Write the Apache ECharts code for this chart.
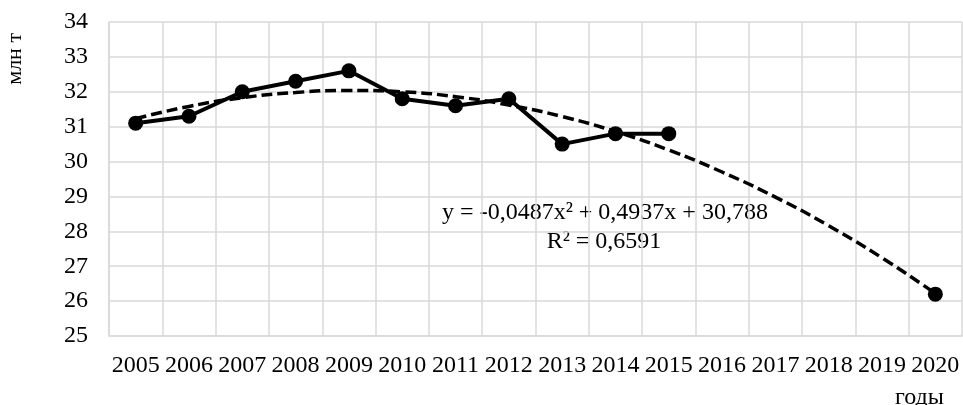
<!DOCTYPE html>
<html>
<head>
<meta charset="utf-8">
<script src="https://cdn.jsdelivr.net/npm/echarts@6/dist/echarts.min.js"></script>
<style>
  html, body { margin: 0; padding: 0; background: #fff; }
  #chart { width: 963px; height: 405px; }
</style>
</head>
<body>
<div id="chart"></div>
<script>
// years on the x axis
const years = ['2005', '2006', '2007', '2008', '2009', '2010', '2011', '2012',
  '2013', '2014', '2015', '2016', '2017', '2018', '2019', '2020'];

// actual values, млн т (2016-2019 missing, 2020 is the forecast point)
const actual = [31.1, 31.3, 32.0, 32.3, 32.6, 31.8, 31.6, 31.8,
  30.5, 30.8, 30.8, null, null, null, null, 26.2];

// polynomial trend
const trend = [31.23, 31.58, 31.83, 31.98, 32.04, 32.0, 31.86, 31.62,
  31.29, 30.86, 30.33, 29.7, 28.98, 28.16, 27.24, 26.22];

const yTicks = { min: 25, max: 34, step: 1 };

const FONT = "'Liberation Serif', 'Times New Roman', serif";
const GRID = '#d9d9d9';

const chart = echarts.init(document.getElementById('chart'), null, { renderer: 'canvas' });

chart.setOption({
  backgroundColor: '#fff',
  animation: false,
  grid: { left: 109, right: 1, top: 22, bottom: 69 },
  xAxis: {
    type: 'category',
    data: years,
    boundaryGap: true,
    axisLine: { show: true, lineStyle: { color: GRID, width: 1.5 } },
    axisTick: { show: false },
    axisLabel: { color: '#000', fontFamily: FONT, fontSize: 24, margin: 18, interval: 0 },
    splitLine: { show: true, interval: 0, lineStyle: { color: GRID, width: 1.5 } },
  },
  yAxis: {
    type: 'value',
    min: yTicks.min,
    max: yTicks.max,
    interval: yTicks.step,
    axisLine: { show: true, lineStyle: { color: GRID, width: 1.5 } },
    axisTick: { show: false },
    axisLabel: { color: '#000', fontFamily: FONT, fontSize: 24, margin: 21 },
    splitLine: { show: true, lineStyle: { color: GRID, width: 1.5 } },
  },
  series: [
    {
      name: 'trend',
      type: 'line',
      data: trend,
      smooth: true,
      symbol: 'none',
      lineStyle: { color: '#000', width: 3.5, type: [11, 5] },
      z: 2,
    },
    {
      name: 'actual',
      type: 'line',
      data: actual,
      connectNulls: false,
      symbol: 'circle',
      symbolSize: 15,
      itemStyle: { color: '#000' },
      lineStyle: { color: '#000', width: 4 },
      z: 3,
    },
  ],
  graphic: [
    {
      type: 'text', left: 4, top: 33, rotation: Math.PI / 2,
      style: { text: 'млн т', font: `22px ${FONT}`, fill: '#000' },
    },
    {
      type: 'text', x: 895, y: 386,
      style: { text: 'годы', font: `24px ${FONT}`, fill: '#000' },
    },
    {
      type: 'text', x: 605, y: 213,
      style: {
        text: 'y = -0,0487x² + 0,4937x + 30,788',
        font: `24px ${FONT}`, fill: '#000', align: 'center', verticalAlign: 'middle',
      },
    },
    {
      type: 'text', x: 604, y: 242,
      style: {
        text: 'R² = 0,6591',
        font: `24px ${FONT}`, fill: '#000', align: 'center', verticalAlign: 'middle',
      },
    },
  ],
});
</script>
</body>
</html>
